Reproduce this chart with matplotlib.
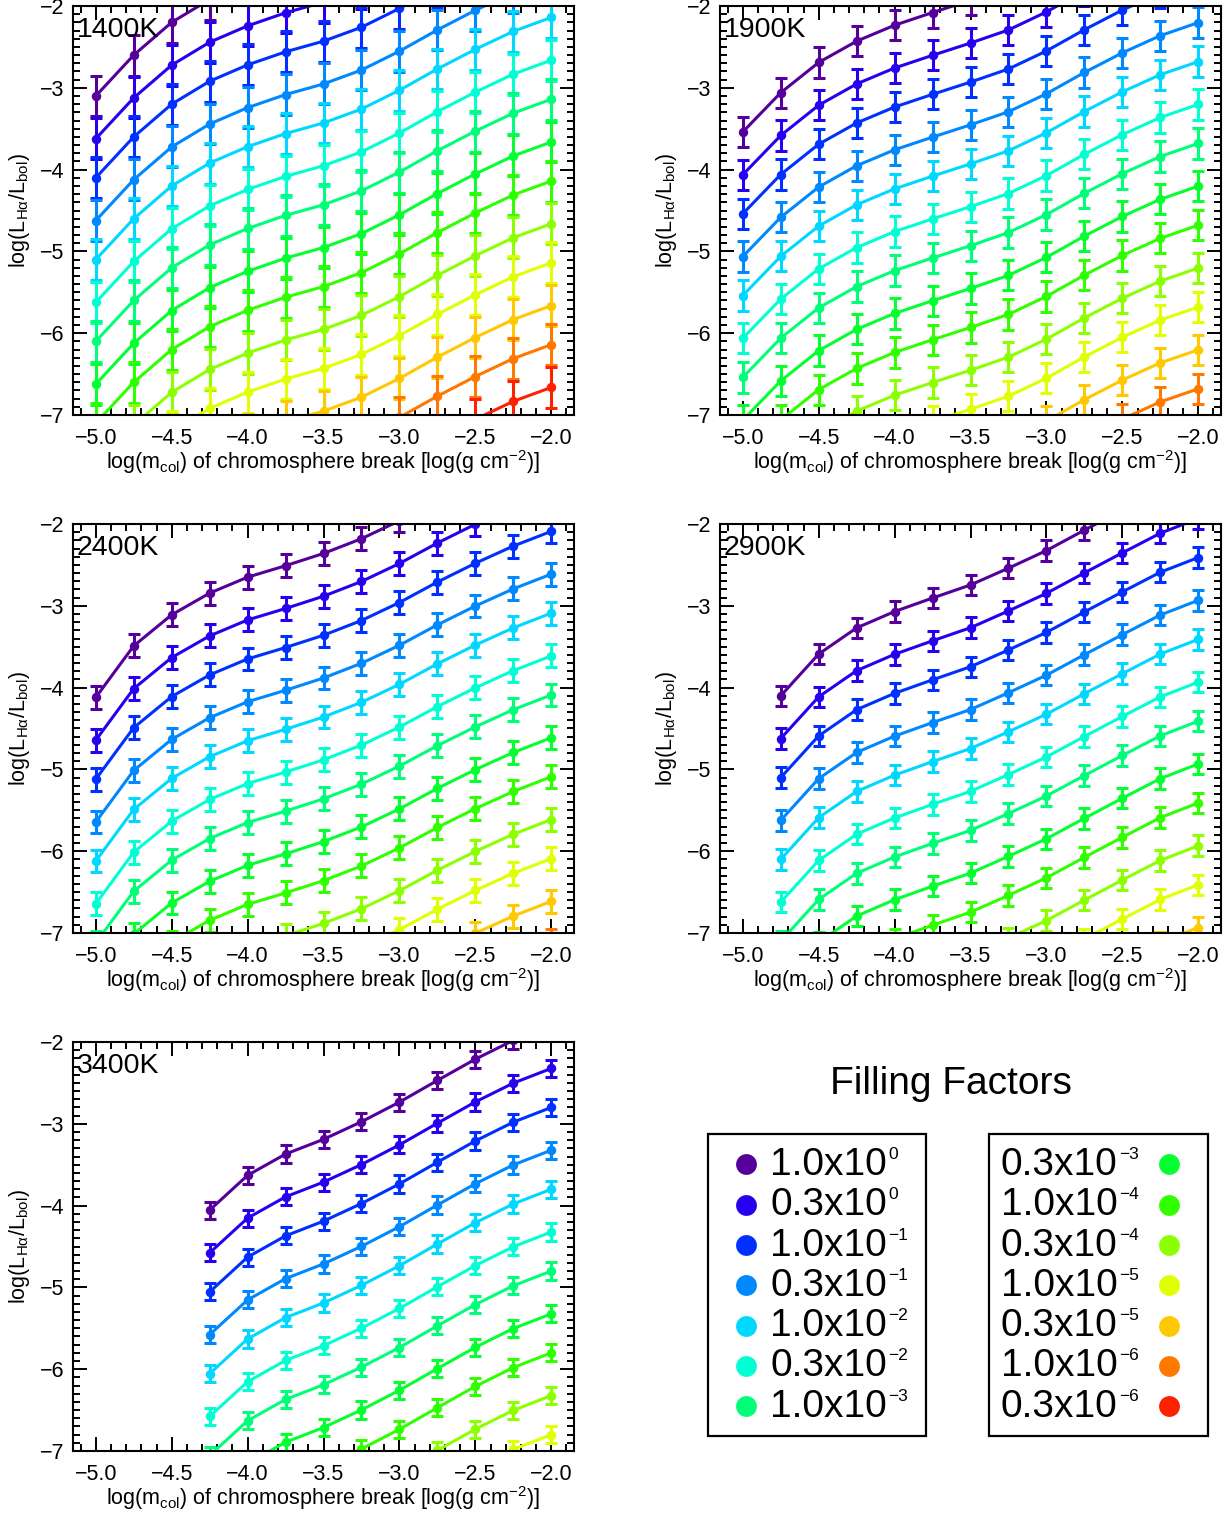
import numpy as np
import matplotlib
matplotlib.use('Agg')
import matplotlib.pyplot as plt
from matplotlib.ticker import MultipleLocator
from matplotlib.patches import Rectangle

plt.rcParams['font.family'] = ['Liberation Sans', 'DejaVu Sans']
plt.rcParams['mathtext.fontset'] = 'custom'
plt.rcParams['mathtext.rm'] = 'Liberation Sans'
plt.rcParams['mathtext.it'] = 'Liberation Sans:italic'
plt.rcParams['mathtext.bf'] = 'Liberation Sans:bold'

# log column mass of the chromosphere break [log(g cm^-2)]
log_mcol = [-5.0, -4.75, -4.5, -4.25, -4.0, -3.75, -3.5, -3.25, -3.0, -2.75, -2.5, -2.25, -2.0]

temps = ['1400K', '1900K', '2400K', '2900K', '3400K']

# log(L_Ha/L_bol) for filling factor 1.0, nan = no model
lha_1400 = [-3.10, -2.60, -2.20, -1.92, -1.72, -1.56, -1.43, -1.26, -1.03, -0.77, -0.53, -0.31, -0.14]
lha_1900 = [-3.54, -3.06, -2.69, -2.43, -2.235, -2.08, -1.93, -1.77, -1.55, -1.29, -1.05, -0.84, -0.68]
lha_2400 = [-4.12, -3.49, -3.11, -2.845, -2.65, -2.51, -2.36, -2.18, -1.96, -1.71, -1.48, -1.27, -1.09]
lha_2900 = [np.nan, -4.10, -3.59, -3.27, -3.07, -2.905, -2.745, -2.54, -2.325, -2.075, -1.83, -1.59, -1.41]
lha_3400 = [np.nan, np.nan, np.nan, -4.055, -3.63, -3.37, -3.19, -2.975, -2.735, -2.47, -2.21, -1.98, -1.80]
lha_all = [lha_1400, lha_1900, lha_2400, lha_2900, lha_3400]

# error bar half-length per temperature (dex)
lha_err = [0.25, 0.185, 0.14, 0.125, 0.105]

# filling factors
ff_mant = ['1.0', '0.3', '1.0', '0.3', '1.0', '0.3', '1.0', '0.3', '1.0', '0.3', '1.0', '0.3', '1.0', '0.3']
ff_exp = [0, 0, -1, -1, -2, -2, -3, -3, -4, -4, -5, -5, -6, -6]
ff_colors = ['#55009a', '#2800f0', '#0030ff', '#0088ff', '#00d8ff', '#00ffd2', '#00ff78',
             '#05ff30', '#30ff00', '#8cff00', '#e0ff00', '#ffc800', '#ff7800', '#ff2000']

W, H = 1228, 1513
fig = plt.figure(figsize=(W/100, H/100), dpi=100)

# panel boxes in pixels (left, top)
panel_px = [(73, 6), (720, 6), (73, 524), (720, 524), (73, 1042)]
pw, ph = 501, 409

for k in range(5):
    l, t = panel_px[k]
    ax = fig.add_axes([l/W, 1-(t+ph)/H, pw/W, ph/H])
    base = np.array(lha_all[k])
    x = np.array(log_mcol)
    ok = ~np.isnan(base)
    for i in range(len(ff_mant)):
        ff = float(ff_mant[i]) * 10.0**ff_exp[i]
        y = base[ok] + np.log10(ff)
        ax.errorbar(x[ok], y, yerr=lha_err[k], color=ff_colors[i], lw=2.2,
                    marker='o', ms=5.8, elinewidth=2.2, capsize=4.5, capthick=2.2)
    ax.set_xlim(-5.15, -1.85)
    ax.set_ylim(-7.0, -2.0)
    ax.set_xticks([-5.0, -4.5, -4.0, -3.5, -3.0, -2.5, -2.0])
    ax.set_xticklabels(['\u22125.0', '\u22124.5', '\u22124.0', '\u22123.5', '\u22123.0', '\u22122.5', '\u22122.0'])
    ax.set_yticks([-7, -6, -5, -4, -3, -2])
    ax.set_yticklabels(['\u22127', '\u22126', '\u22125', '\u22124', '\u22123', '\u22122'])
    ax.xaxis.set_minor_locator(MultipleLocator(0.1))
    ax.yaxis.set_minor_locator(MultipleLocator(0.1))
    ax.tick_params(which='both', direction='in', top=True, right=True, labelsize=15.5, width=1.4, pad=6)
    ax.tick_params(axis='x', which='both', pad=9.5)
    ax.tick_params(which='major', length=10)
    ax.tick_params(which='minor', length=5)
    for s in ax.spines.values():
        s.set_linewidth(1.5)
    ax.set_xlabel(r'log(m$_{\mathrm{col}}$) of chromosphere break [log(g cm$^{-2}$)]', fontsize=15.5, labelpad=-0.5)
    ax.set_ylabel(r'log(L$_{\mathrm{H\alpha}}$/L$_{\mathrm{bol}}$)', fontsize=15.5, labelpad=6)
    ax.text(0.008, 0.974, temps[k], transform=ax.transAxes, ha='left', va='top',
            fontsize=20.5, zorder=20)

# legend drawn in pixel coordinates
lg = fig.add_axes([0, 0, 1, 1])
lg.set_xlim(0, W)
lg.set_ylim(H, 0)
lg.axis('off')
lg.text(951, 1084, 'Filling Factors', ha='center', va='center', fontsize=28)
lg.add_patch(Rectangle((708, 1134), 218, 302, fill=False, lw=1.6, ec='black'))
lg.add_patch(Rectangle((989, 1134), 219, 302, fill=False, lw=1.6, ec='black'))

for i in range(len(ff_mant)):
    row = i % 7
    yc = 1164.3 + row * 40.3
    if i < 7:
        mx, tx = 746, 770
    else:
        mx, tx = 1169, 1001
    lg.plot(mx, yc, 'o', color=ff_colors[i], ms=15, mec='none')
    main = lg.text(tx, yc + 10.7, ff_mant[i] + 'x10', ha='left', va='baseline', fontsize=28)
    exp = str(ff_exp[i]).replace('-', '\u2212')
    lg.annotate(exp, xy=(1, 1), xycoords=main, xytext=(1, 0), textcoords='offset points',
                ha='left', va='top', fontsize=12.5)

fig.savefig('out.png', dpi=100)
